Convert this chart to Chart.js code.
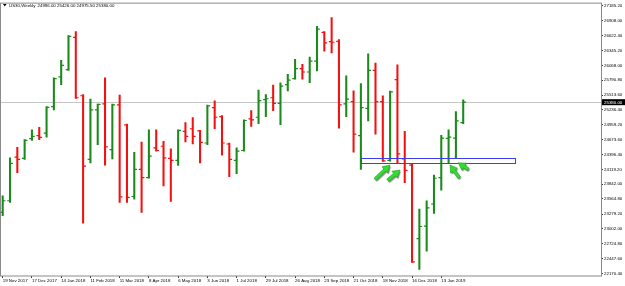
<!DOCTYPE html>
<html>
<head>
<meta charset="utf-8">
<script src="https://cdn.jsdelivr.net/npm/chart.js@4.4.1/dist/chart.umd.min.js"></script>
<style>
html, body { margin: 0; padding: 0; background: #fff; }
#wrap { width: 625px; height: 286px; position: relative; }
</style>
</head>
<body>
<div id="wrap"><canvas id="chart"></canvas></div>
<script>
const symbol = "US30,Weekly";

// weekly OHLC, first bar = week of 19 Nov 2017
const opens = [23314.6, 23531.9, 24349.1, 24325.0, 24696.4, 24752.1, 24800.4, 25296.3, 25853.5, 25989.1,
  26596.4, 25500.6, 24306.4, 25235.0, 25346.5, 24492.1, 25327.9, 24956.4, 23611.8, 24120.7,
  23964.7, 24521.8, 24553.4, 24325.0, 24287.8, 24832.0, 24882.2, 24841.3, 24614.7, 25277.8,
  25110.6, 24596.1, 24287.8, 24473.6, 25067.9, 25097.6, 25426.3, 25463.5, 25357.6, 25710.5,
  25822.0, 26007.7, 25946.4, 26150.7, 26689.3, 26516.6, 26522.2, 25346.5, 25389.2, 24752.1,
  25264.8, 25978.0, 25389.2, 24287.8, 25803.4, 24317.6, 24200.5, 22820.6, 23054.6, 23470.6,
  23964.7, 24702.0, 24707.6, 24996.0];
const highs = [23624.8, 24336.1, 24534.8, 24677.9, 24863.6, 24906.3, 25296.3, 25835.0, 26163.7, 26628.0,
  26702.3, 25524.8, 25439.3, 25346.5, 25835.0, 25346.5, 25513.6, 24967.6, 24442.0, 24633.3,
  24863.6, 24863.6, 24646.3, 24503.3, 24863.6, 24999.2, 25092.0, 24850.6, 25327.9, 25407.8,
  25129.2, 24614.7, 24521.8, 25049.3, 25222.0, 25606.5, 25524.8, 25699.4, 25742.1, 25903.7,
  26182.3, 26089.4, 26225.0, 26800.7, 26702.3, 26967.9, 26553.7, 25872.1, 25593.5, 25729.1,
  26286.3, 26113.5, 25500.6, 25587.9, 26082.0, 24832.0, 24213.6, 23377.7, 23531.9, 24014.8,
  24757.7, 24863.6, 25203.5, 25426.0];
const lows = [23253.3, 23500.3, 24057.5, 24306.4, 24664.9, 24677.9, 24726.1, 25235.0, 25710.5, 25978.0,
  25450.5, 23110.3, 24243.2, 24585.0, 24200.5, 24317.6, 23500.3, 23500.3, 23563.5, 23314.6,
  23953.5, 24460.5, 23810.5, 23518.9, 24195.0, 24633.3, 24596.1, 24243.2, 24585.0, 24882.2,
  24386.3, 23983.2, 24038.9, 24460.5, 24924.9, 24975.0, 25110.6, 25222.0, 24956.4, 25593.5,
  25810.8, 25810.8, 25747.7, 25965.0, 26336.4, 26304.8, 24893.3, 25110.6, 24442.0, 24120.7,
  25030.7, 24781.9, 24268.0, 24274.8, 24243.2, 23871.8, 22374.8, 22244.8, 22584.7, 23296.0,
  23730.6, 24243.2, 24325.0, 24975.5];
const closes = [23531.9, 24232.1, 24306.4, 24664.9, 24739.1, 24720.6, 25283.3, 25822.0, 26070.8, 26615.0,
  25463.5, 24182.0, 25235.0, 25339.1, 24540.4, 25327.9, 23606.2, 23593.2, 24120.7, 23964.7,
  24367.7, 24473.6, 24336.1, 24287.8, 24850.6, 24739.1, 24739.1, 24627.7, 25309.3, 25097.6,
  24614.7, 24306.4, 24460.5, 25036.3, 25049.3, 25407.8, 25444.9, 25357.6, 25680.8, 25792.2,
  26007.7, 25946.4, 26150.7, 26750.6, 26490.6, 26503.6, 25327.9, 25439.3, 24781.9, 25277.8,
  25978.0, 25389.2, 24280.0, 25574.9, 24410.4, 24102.1, 22386.0, 23049.0, 23396.3, 23953.5,
  24707.6, 24726.1, 25030.7, 25380.0];

const dateTickIdx = [0, 4, 8, 12, 16, 20, 24, 28, 32, 36, 40, 44, 48, 52, 56, 60];
const dateTickLabels = ["19 Nov 2017", "17 Dec 2017", "14 Jan 2018", "11 Feb 2018", "11 Mar 2018",
  "8 Apr 2018", "6 May 2018", "3 Jun 2018", "1 Jul 2018", "29 Jul 2018", "26 Aug 2018",
  "23 Sep 2018", "21 Oct 2018", "18 Nov 2018", "16 Dec 2018", "13 Jan 2019"];
const priceTicks = [27185.20, 26908.00, 26622.40, 26345.20, 26068.00, 25790.80, 25513.60, 25236.40,
  24959.20, 24673.60, 24396.40, 24119.20, 23842.00, 23564.80, 23279.20, 23002.00, 22724.80,
  22447.60, 22170.40];

// support zone (bar index range, price range) and the arrows pointing at it
const zoneBars = [49, 70.1];
const zonePrices = [24224.7, 24325.0];
const arrowTails = [[50.93, 23934.9], [52.67, 23916.4], [62.46, 23964.7], [63.69, 24120.7]];
const arrowTips = [[52.98, 24200.5], [54.35, 24107.7], [61.19, 24200.5], [62.33, 24243.2]];

const UP = '#1a8a1a';
const DOWN = '#f21111';
const FONT = 'Liberation Sans';
const barColors = closes.map((c, i) => c >= opens[i] ? UP : DOWN);

function drawArrow(ctx, tx, ty, hx, hy) {
  const dx = hx - tx, dy = hy - ty;
  const len = Math.hypot(dx, dy);
  const ux = dx / len, uy = dy / len;
  const nx = -uy, ny = ux;
  const headL = 7, headW = 4.2, sw = 1.5;
  const bx = hx - ux * headL, by = hy - uy * headL;
  ctx.beginPath();
  ctx.moveTo(tx + nx * sw, ty + ny * sw);
  ctx.lineTo(bx + nx * sw, by + ny * sw);
  ctx.lineTo(bx + nx * headW, by + ny * headW);
  ctx.lineTo(hx, hy);
  ctx.lineTo(bx - nx * headW, by - ny * headW);
  ctx.lineTo(bx - nx * sw, by - ny * sw);
  ctx.lineTo(tx - nx * sw, ty - ny * sw);
  ctx.closePath();
}

const mt4 = {
  id: 'mt4',
  beforeDatasetsDraw(chart) {
    const {ctx, chartArea: a, scales: {y}} = chart;
    const py = Math.round(y.getPixelForValue(closes[closes.length - 1])) + 0.5;
    ctx.save();
    ctx.strokeStyle = '#c6c6c6';
    ctx.lineWidth = 1;
    ctx.beginPath();
    ctx.moveTo(a.left, py);
    ctx.lineTo(a.right, py);
    ctx.stroke();
    ctx.restore();
  },
  afterDatasetsDraw(chart) {
    const {ctx, scales: {x, y}} = chart;
    ctx.save();
    ctx.lineWidth = 1.2;
    opens.forEach((o, i) => {
      const px = x.getPixelForValue(i);
      const yo = y.getPixelForValue(o);
      const yc = y.getPixelForValue(closes[i]);
      ctx.strokeStyle = barColors[i];
      ctx.beginPath();
      ctx.moveTo(px - 2.8, yo);
      ctx.lineTo(px, yo);
      ctx.moveTo(px, yc);
      ctx.lineTo(px + 2.8, yc);
      ctx.stroke();
    });

    // zone rectangle
    const zx1 = x.getPixelForValue(zoneBars[0]);
    const zx2 = x.getPixelForValue(zoneBars[1]);
    const zy1 = y.getPixelForValue(zonePrices[1]);
    const zy2 = y.getPixelForValue(zonePrices[0]);
    ctx.strokeStyle = '#3c3cf5';
    ctx.lineWidth = 1;
    ctx.strokeRect(Math.round(zx1) + 0.5, Math.round(zy1) + 0.5, Math.round(zx2 - zx1), Math.round(zy2 - zy1));

    // arrows
    arrowTails.forEach((t, i) => {
      const tx = x.getPixelForValue(t[0]), ty = y.getPixelForValue(t[1]);
      const hx = x.getPixelForValue(arrowTips[i][0]), hy = y.getPixelForValue(arrowTips[i][1]);
      ctx.save();
      ctx.shadowColor = 'rgba(0,0,0,0.45)';
      ctx.shadowOffsetX = 1;
      ctx.shadowOffsetY = 1.5;
      ctx.shadowBlur = 1;
      drawArrow(ctx, tx, ty, hx, hy);
      ctx.fillStyle = '#2fe02f';
      ctx.fill();
      ctx.restore();
      drawArrow(ctx, tx, ty, hx, hy);
      ctx.strokeStyle = '#1f9a1f';
      ctx.lineWidth = 0.6;
      ctx.stroke();
    });
    ctx.restore();
  },
  afterDraw(chart) {
    const {ctx, chartArea: a, scales: {y}} = chart;
    ctx.save();
    // frame
    ctx.strokeStyle = '#8a8a8a';
    ctx.lineWidth = 1;
    ctx.strokeRect(a.left - 0.5, a.top - 0.5, a.right - a.left + 1, a.bottom - a.top + 1);

    // header
    ctx.fillStyle = '#000';
    ctx.beginPath();
    ctx.moveTo(3, 4);
    ctx.lineTo(6.5, 4);
    ctx.lineTo(4.75, 6.5);
    ctx.closePath();
    ctx.fill();
    ctx.font = '4.4px "' + FONT + '"';
    ctx.textBaseline = 'middle';
    ctx.textAlign = 'left';
    const last = opens.length - 1;
    ctx.fillText(symbol, 9, 5.5);
    ctx.fillText([opens[last], highs[last], lows[last], closes[last]].map(v => v.toFixed(2)).join(' '), 37.5, 5.5);

    // current price tag
    const py = y.getPixelForValue(closes[last]);
    ctx.fillStyle = '#000';
    ctx.fillRect(a.right + 1, py - 3, 23, 6);
    ctx.fillStyle = '#fff';
    ctx.fillText(closes[last].toFixed(2), a.right + 3, py + 0.3);
    ctx.restore();
  }
};

new Chart(document.getElementById('chart'), {
  type: 'bar',
  data: {
    datasets: [{
      data: lows.map((l, i) => ({x: i, y: [l, highs[i]]})),
      backgroundColor: barColors,
      borderWidth: 0,
      barThickness: 1.4,
      grouped: false
    }]
  },
  options: {
    responsive: true,
    maintainAspectRatio: false,
    animation: false,
    devicePixelRatio: 1,
    layout: { padding: { top: 1, left: 1, right: 0, bottom: 0 } },
    plugins: { legend: { display: false }, tooltip: { enabled: false } },
    scales: {
      x: {
        type: 'linear',
        offset: false,
        min: -0.233,
        max: 81.85,
        afterBuildTicks(s) { s.ticks = dateTickIdx.map(v => ({value: v})); },
        afterFit(s) { s.height = 10.5; },
        border: { display: false },
        grid: { offset: false, drawOnChartArea: false, drawTicks: true, tickLength: 2.5, color: '#000', lineWidth: 0.8 },
        ticks: {
          autoSkip: false,
          maxRotation: 0,
          align: 'start',
          padding: 0.5,
          color: '#000',
          font: { family: FONT, size: 4.4 },
          callback: v => dateTickLabels[dateTickIdx.indexOf(v)]
        }
      },
      y: {
        position: 'right',
        min: 22130,
        max: 27228,
        beginAtZero: false,
        afterBuildTicks(s) { s.ticks = priceTicks.map(v => ({value: v})); },
        afterFit(s) { s.width = 24; },
        border: { display: false },
        grid: { drawOnChartArea: false, drawTicks: true, tickLength: 2, color: '#000', lineWidth: 0.8 },
        ticks: {
          autoSkip: false,
          padding: 1,
          color: '#000',
          font: { family: FONT, size: 4.4 },
          callback: v => v.toFixed(2)
        }
      }
    }
  },
  plugins: [mt4]
});
</script>
</body>
</html>
